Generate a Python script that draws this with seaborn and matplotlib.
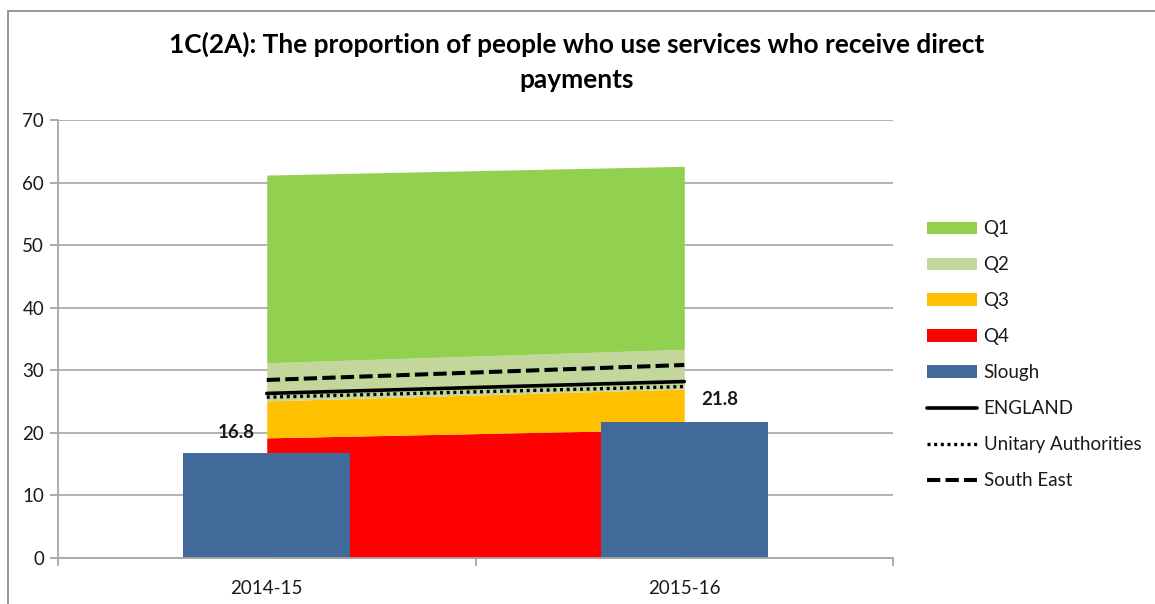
import numpy as np
import matplotlib
matplotlib.use("Agg")
import matplotlib.pyplot as plt
from matplotlib.patches import Patch, Rectangle
from matplotlib.lines import Line2D
import seaborn as sns

# ---- data ----
years = ["2014-15", "2015-16"]
q4_upper = [19.2, 20.55]   # top of the lowest quartile band
q3_upper = [25.1, 27.0]
q2_upper = [31.2, 33.35]
q1_upper = [61.2, 62.6]
slough = [16.8, 21.8]
england = [26.3, 28.2]
unitary = [25.7, 27.4]
south_east = [28.45, 30.85]

title = "1C(2A): The proportion of people who use services who receive direct\npayments"
y_ticks = [0, 10, 20, 30, 40, 50, 60, 70]

# ---- style ----
sns.set_style("white")
plt.rcParams["font.family"] = ["Lato", "DejaVu Sans"]

col_q1 = "#92D050"
col_q2 = "#C3D69B"
col_q3 = "#FFC000"
col_q4 = "#FF0000"
col_slough = "#416A9B"
grid_col = "#A6A6A6"
text_col = "#1A1A1A"
fs = 13.5

W, H = 1155, 604
fig = plt.figure(figsize=(W / 100, H / 100), dpi=100)
ax = fig.add_axes([58 / W, 1 - 558 / H, (893 - 58) / W, (558 - 120) / H])

x = np.arange(len(years))

# quartile bands
lower = np.zeros(len(years))
for upper, col in [(q4_upper, col_q4), (q3_upper, col_q3),
                   (q2_upper, col_q2), (q1_upper, col_q1)]:
    ax.fill_between(x, lower, upper, color=col, linewidth=0, zorder=1)
    lower = np.array(upper)

# Slough bars
sns.barplot(x=x, y=slough, native_scale=True, width=0.4, color=col_slough,
            saturation=1, ax=ax, zorder=2, edgecolor="none")

# comparator lines
eng_style = dict(color="black", linewidth=2.6)
ua_style = dict(color="black", linewidth=2.4, linestyle=(0, (0.9, 1.1)))
se_style = dict(color="black", linewidth=2.9, linestyle=(0, (3.3, 1.3)))
sns.lineplot(x=x, y=england, ax=ax, zorder=3, **eng_style)
sns.lineplot(x=x, y=unitary, ax=ax, zorder=3, **ua_style)
sns.lineplot(x=x, y=south_east, ax=ax, zorder=3, **se_style)

# value labels for Slough
label_offsets = [(-31, 20), (35, 22)]
for xi, v, off in zip(x, slough, label_offsets):
    ax.annotate(f"{v}", (xi, v), xytext=off, textcoords="offset pixels",
                ha="center", va="center", fontsize=fs, fontweight="bold",
                color=text_col)

# axes
ax.set_xlim(-0.5, 1.5)
ax.set_ylim(0, 70)
ax.set_yticks(y_ticks)
ax.set_yticklabels([str(t) for t in y_ticks])
ax.set_xticks([-0.5, 0.5, 1.5])
ax.set_xticklabels([])
ax.set_xticks(x, minor=True)
ax.set_xticklabels(years, minor=True)
ax.tick_params(axis="x", which="major", length=6, width=1.3, color=grid_col,
               direction="out", bottom=True)
ax.tick_params(axis="x", which="minor", length=0, pad=16, labelsize=fs,
               labelcolor=text_col)
ax.tick_params(axis="y", length=6, width=1.3, color=grid_col, direction="out",
               left=True, pad=4, labelsize=fs, labelcolor=text_col)
ax.grid(axis="y", color=grid_col, linewidth=1.2)
ax.grid(axis="x", visible=False)
ax.set_axisbelow(True)
for side in ["top", "right"]:
    ax.spines[side].set_visible(False)
for side in ["left", "bottom"]:
    ax.spines[side].set_color(grid_col)
    ax.spines[side].set_linewidth(1.3)
ax.set_xlabel("")
ax.set_ylabel("")

# title
fig.text(577 / W, 1 - 61.5 / H, title, ha="center", va="center",
         fontsize=18.9, fontweight="bold", color="black", linespacing=1.56)

# legend
handles = [
    Patch(facecolor=col_q1, edgecolor="none", label="Q1"),
    Patch(facecolor=col_q2, edgecolor="none", label="Q2"),
    Patch(facecolor=col_q3, edgecolor="none", label="Q3"),
    Patch(facecolor=col_q4, edgecolor="none", label="Q4"),
    Patch(facecolor=col_slough, edgecolor="none", label="Slough"),
    Line2D([], [], label="ENGLAND", **eng_style),
    Line2D([], [], label="Unitary Authorities", **ua_style),
    Line2D([], [], label="South East", **se_style),
]
leg = fig.legend(handles=handles, loc="upper left",
                 bbox_to_anchor=(918 / W, 1 - 211 / H), frameon=False,
                 fontsize=fs, handlelength=2.67, handleheight=0.64,
                 handletextpad=0.33, labelspacing=1.01, borderpad=0,
                 labelcolor=text_col)

# chart border
fig.add_artist(Rectangle((8 / W, -0.1), 1.2, 1.1 - 11 / H,
                         transform=fig.transFigure, fill=False,
                         edgecolor="#8C8C8C", linewidth=1.3))

fig.savefig("out.png", dpi=100)
